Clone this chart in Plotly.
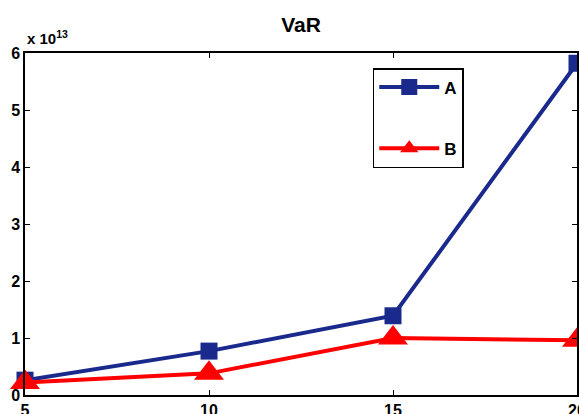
import plotly.graph_objects as go

x_vals = [5, 10, 15, 20]
series_a = [0.26e13, 0.77e13, 1.39e13, 5.82e13]
series_b = [0.22e13, 0.38e13, 1.0e13, 0.96e13]
y_ticks = [0, 1e13, 2e13, 3e13, 4e13, 5e13, 6e13]
y_tick_labels = ["0", "1", "2", "3", "4", "5", "6"]
x_ticks = [5, 10, 15, 20]

font_fam = "Liberation Sans Narrow, Liberation Sans, Arial, sans-serif"

fig = go.Figure()
fig.add_trace(go.Scatter(
    x=x_vals, y=series_a, name="A", mode="lines+markers", legendgroup="a",
    line=dict(color="#1a2a8c", width=4), cliponaxis=False,
    marker=dict(symbol="square", size=17, color="#1a2a8c"),
))
fig.add_trace(go.Scatter(
    x=x_vals, y=series_b, name="B", mode="lines+markers", legendgroup="b",
    line=dict(color="#ff0000", width=4), cliponaxis=False,
    marker=dict(symbol="triangle-up", size=26, color="#ff0000"),
))

axis_common = dict(
    showgrid=False, zeroline=False, showline=True, linecolor="black", linewidth=1.5,
    mirror="ticks", ticks="inside", ticklen=5, tickcolor="black", automargin=False,
    ticklabeloverflow="allow",
    tickfont=dict(family=font_fam, size=16, color="black", weight="bold"),
)

fig.update_layout(
    width=579, height=414,
    paper_bgcolor="white", plot_bgcolor="white",
    margin=dict(l=25, r=2, t=53, b=19),
    title=dict(text="VaR", x=0.52, xanchor="center", y=0.94, yanchor="middle",
               font=dict(family=font_fam, size=21, color="black", weight="bold")),
    xaxis=dict(range=[5, 20], tickvals=x_ticks, ticklabelstandoff=0, **axis_common),
    yaxis=dict(range=[0, 6e13], tickvals=y_ticks, ticktext=y_tick_labels, **axis_common),
    showlegend=True,
    legend=dict(x=0.63, y=0.956, xanchor="left", yanchor="top",
                bordercolor="black", borderwidth=1.5, bgcolor="white",
                font=dict(family=font_fam, size=17, color="black", weight="bold"),
                tracegroupgap=36, itemwidth=60, entrywidth=100, entrywidthmode="pixels"),
    annotations=[dict(
        text="x 10<sup>13</sup>", xref="paper", yref="paper", x=0, y=1.0,
        xanchor="left", yanchor="bottom", showarrow=False, yshift=4,
        font=dict(family=font_fam, size=15, color="black", weight="bold"),
    )],
)

fig.write_html(
    "out.html",
    config={"displayModeBar": False},
    post_script="document.body.style.margin='0';document.body.style.overflow='hidden';",
)
